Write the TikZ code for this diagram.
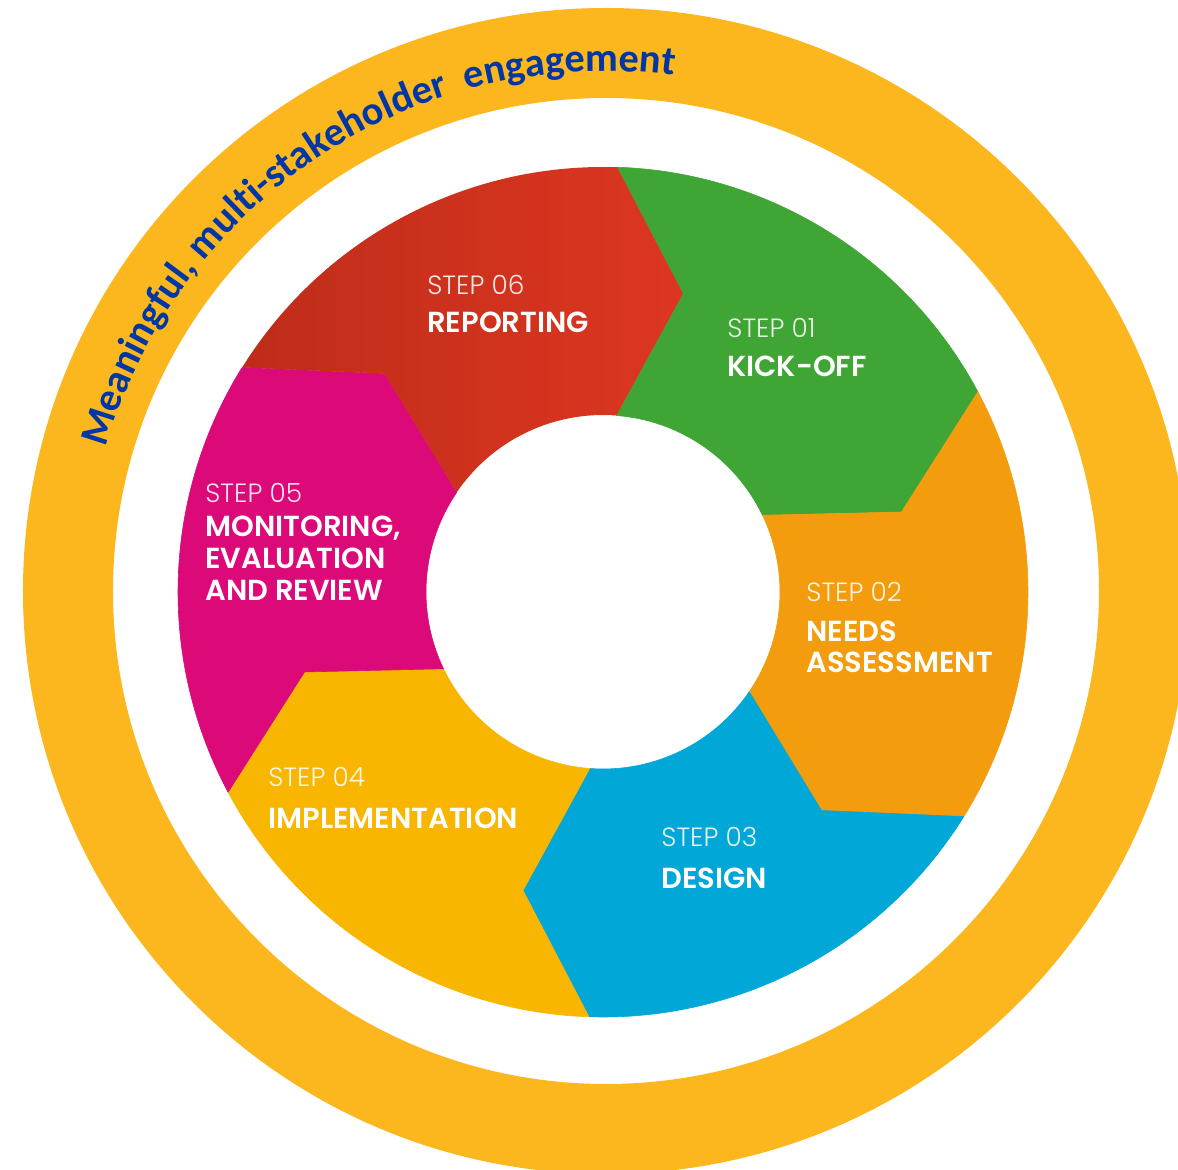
\documentclass[tikz,border=0pt]{standalone}
\usepackage{fontspec}
\usetikzlibrary{decorations.text}
\newfontfamily\arcfont{Carlito}
\newfontfamily\steplightfont{Poppins Light}
\newfontfamily\stepboldfont{Poppins SemiBold}
\definecolor{ringc}{HTML}{FDB71E}
\definecolor{arcblue}{HTML}{0037A4}
\definecolor{greenc}{HTML}{3FA535}
\definecolor{orangec}{HTML}{F39C0D}
\definecolor{bluec}{HTML}{00A7D7}
\definecolor{yellowc}{HTML}{F8B600}
\definecolor{magentac}{HTML}{DC0A78}
\definecolor{redL}{HTML}{BE2D1A}
\definecolor{redR}{HTML}{DD3620}
% one wheel segment: #1 = tip angle of its counter-clockwise boundary, #2 = fill style
\newcommand\wheelseg[2]{%
  \path[#2] ({#1+13.1}:425) arc[start angle={#1+13.1}, end angle={#1-46.9}, radius=425]
    -- ({#1-60}:309) -- ({#1-49.3}:177)
    arc[start angle={#1-49.3}, end angle={#1+10.7}, radius=177]
    -- (#1:309) -- cycle;}
\begin{document}
\begin{tikzpicture}[x=0.5pt,y=0.5pt,
  steplbl/.style={font=\steplightfont\fontsize{13.2}{15}\selectfont, text=white, text opacity=0.88, anchor=base west, inner sep=0pt},
  namelbl/.style={font=\stepboldfont\fontsize{14.5}{17}\selectfont, text=white, anchor=base west, inner sep=0pt},
  segfill/.style={fill=#1, draw=#1, line width=0.3pt}]
\useasboundingbox (-603,-578) rectangle (575,592);
\clip (-603,-578) rectangle (575,592);
% outer ring
\fill[ringc, even odd rule] (3,1) circle[radius=583] (3,1) circle[radius=493];
% curved text
\path[decorate, decoration={text along path, text align=left, text color=arcblue,
  text={|\arcfont\bfseries\fontsize{20.2}{24}\selectfont|Meaningful, multi-stakeholder{\ \ }engagement}}]
  (3,1) ++(164:520) arc[start angle=164, end angle=70, radius=520];
% wheel
\wheelseg{75}{segfill=greenc}
\wheelseg{15}{segfill=orangec}
\wheelseg{-45}{segfill=bluec}
\wheelseg{-105}{segfill=yellowc}
\wheelseg{-165}{segfill=magentac}
\wheelseg{135}{left color=redL, middle color=redL, right color=redR}
% labels
\node[steplbl] (s6) at (-176,297) {STEP 06};
\node[namelbl] (n6) at (-176,259) {REPORTING};
\node[steplbl] (s1) at (124,254) {STEP 01};
\node[namelbl] (n1) at (124,215) {KICK-OFF};
\node[steplbl] (s2) at (203,-10) {STEP 02};
\node[namelbl] (n2a) at (203,-50) {NEEDS};
\node[namelbl] (n2b) at (203,-81) {ASSESSMENT};
\node[steplbl] (s3) at (58,-255) {STEP 03};
\node[namelbl] (n3) at (58,-297) {DESIGN};
\node[steplbl] (s4) at (-335,-195) {STEP 04};
\node[namelbl] (n4) at (-335,-237) {IMPLEMENTATION};
\node[steplbl] (s5) at (-398,89) {STEP 05};
\node[namelbl] (n5a) at (-398,55) {MONITORING,};
\node[namelbl] (n5b) at (-398,23) {EVALUATION};
\node[namelbl] (n5c) at (-398,-9) {AND REVIEW};
\end{tikzpicture}
\end{document}
